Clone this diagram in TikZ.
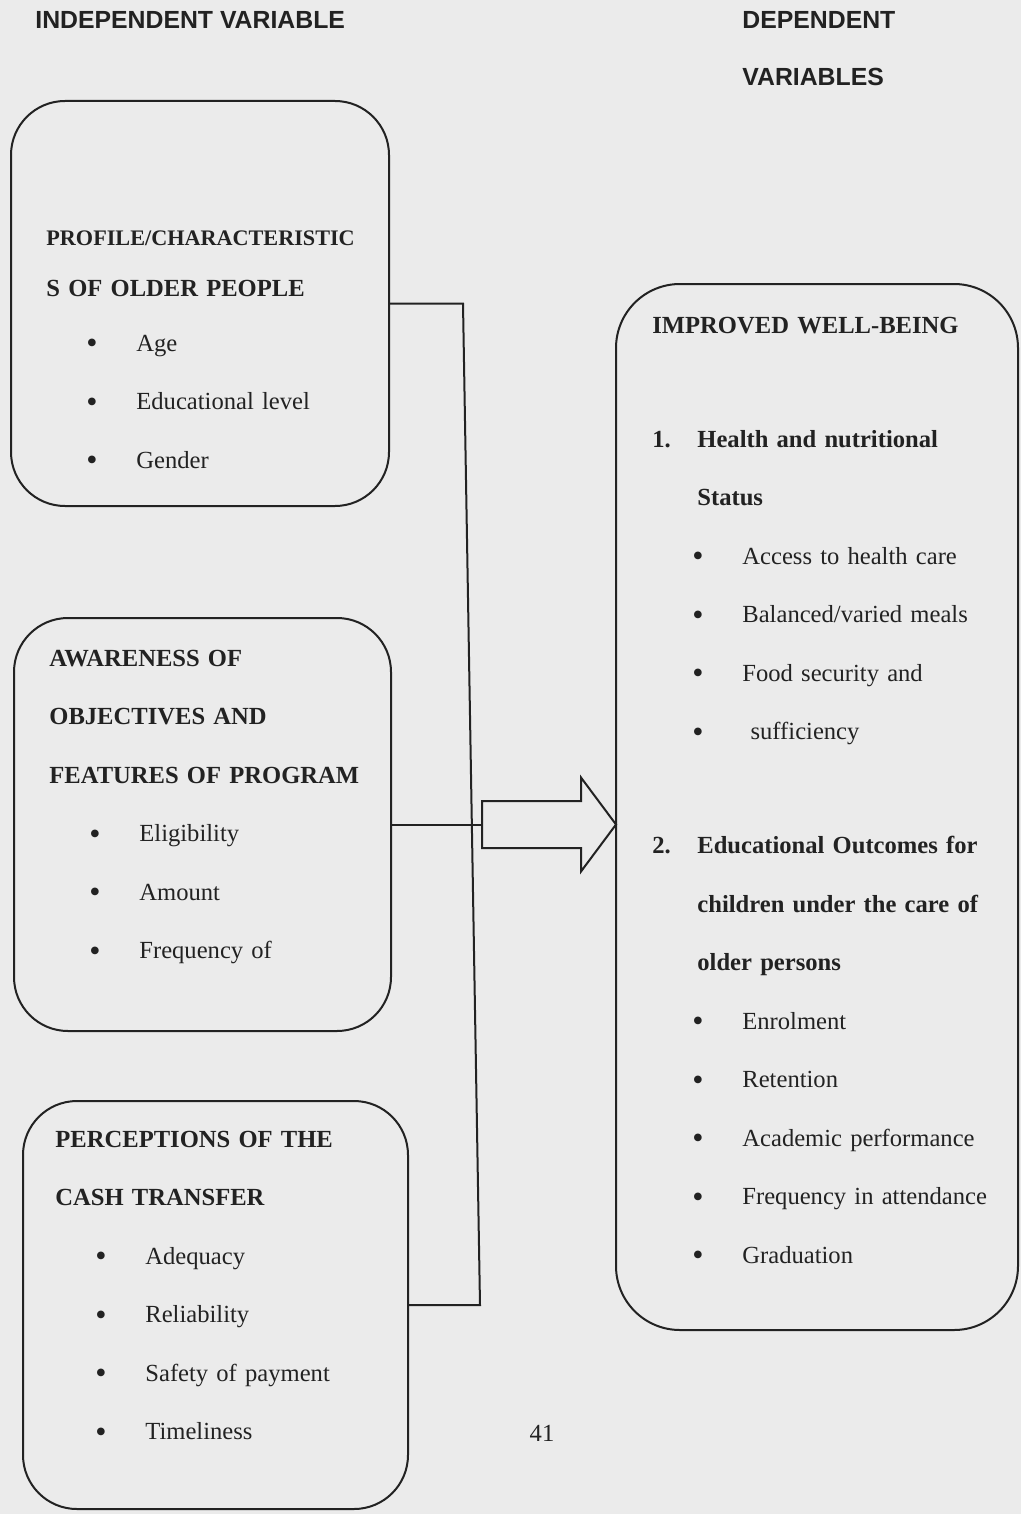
\documentclass[tikz,border=0pt]{standalone}
\usepackage{fontspec}
\setmainfont{Liberation Serif}
\newfontfamily\headsans{Liberation Sans}
\usepackage{xcolor}
\usepackage{tikz}
\usetikzlibrary{positioning}

\definecolor{ink}{HTML}{222222}
\definecolor{paper}{HTML}{EBEBEB}

\newcommand{\itm}[1]{\hspace*{20pt}\makebox[25pt][l]{\raisebox{-1.3pt}{\fontsize{16}{16}\selectfont\textbullet}}#1}
\newcommand{\numhd}[2]{\makebox[22.5pt][l]{#1}#2}

\begin{document}
\begin{tikzpicture}[x=0.5pt,y=-0.5pt,every node/.style={on grid,node distance=29.25pt},
    panel/.style={draw=ink,line width=1pt,rounded corners=27pt,anchor=north west,inner sep=0pt},
    txt/.style={text=ink,inner sep=0pt,text width=175pt,align=left,text height=9pt,text depth=3pt,
      font=\fontsize{12.3}{14.8}\selectfont},
    hd/.style={txt,font=\fontsize{12.3}{14.8}\selectfont\bfseries},
    top/.style={text=ink,inner sep=0pt,anchor=west,font=\headsans\fontsize{12.4}{14}\selectfont\bfseries},
    link/.style={draw=ink,line width=1pt}]

    \fill[paper] (0,0) rectangle (1021,1514);
    \useasboundingbox (0,0) rectangle (1021,1514);

    \node[top] (IV) at (35,20) {INDEPENDENT VARIABLE};
    \node[top] (DV) at (742,20) {DEPENDENT};
    \node[top] (DV2) at (742,77) {VARIABLES};

    % boxes
    \node[panel,minimum width=189pt,minimum height=202.5pt] (Prof) at (10,100) {};
    \node[panel,minimum width=188.5pt,minimum height=206.5pt] (Aware) at (13,617) {};
    \node[panel,minimum width=192.5pt,minimum height=204pt] (Perc) at (22,1100) {};
    \node[panel,minimum width=201pt,minimum height=523pt,rounded corners=32pt] (Well) at (615,283) {};

    % profile
    \node[hd,anchor=west,font=\fontsize{11.1}{14}\selectfont\bfseries] (p1) at (46,240) {PROFILE/CHARACTERISTIC};
    \node[hd,node distance=25pt,below of=p1] (p2) {S OF OLDER PEOPLE};
    \node[txt,node distance=27.5pt,below of=p2] (p3) {\itm{Age}};
    \node[txt,below of=p3] (p4) {\itm{Educational level}};
    \node[txt,below of=p4] (p5) {\itm{Gender}};

    % awareness
    \node[hd,anchor=west] (a1) at (49,660) {AWARENESS OF};
    \node[hd,below of=a1] (a2) {OBJECTIVES AND};
    \node[hd,below of=a2] (a3) {FEATURES OF PROGRAM};
    \node[txt,below of=a3] (a4) {\itm{Eligibility}};
    \node[txt,below of=a4] (a5) {\itm{Amount}};
    \node[txt,below of=a5] (a6) {\itm{Frequency of}};

    % perceptions
    \node[hd,anchor=west] (c1) at (55,1141) {PERCEPTIONS OF THE};
    \node[hd,below of=c1] (c2) {CASH TRANSFER};
    \node[txt,below of=c2] (c3) {\itm{Adequacy}};
    \node[txt,below of=c3] (c4) {\itm{Reliability}};
    \node[txt,below of=c4] (c5) {\itm{Safety of payment}};
    \node[txt,below of=c5] (c6) {\itm{Timeliness}};

    % well-being
    \node[hd,anchor=west] (w1) at (652,327) {IMPROVED WELL-BEING};
    \node[hd,node distance=57pt,below of=w1] (w2) {\numhd{1.}{Health and nutritional}};
    \node[hd,below of=w2] (w3) {\numhd{}{Status}};
    \node[txt,below of=w3] (w4) {\itm{Access to health care}};
    \node[txt,below of=w4] (w5) {\itm{Balanced/varied meals}};
    \node[txt,below of=w5] (w6) {\itm{Food security and}};
    \node[txt,below of=w6] (w7) {\itm{\ sufficiency}};
    \node[hd,node distance=57pt,below of=w7] (w8) {\numhd{2.}{Educational Outcomes for}};
    \node[hd,below of=w8] (w9) {\numhd{}{children under the care of}};
    \node[hd,below of=w9] (w10) {\numhd{}{older persons}};
    \node[txt,below of=w10] (w11) {\itm{Enrolment}};
    \node[txt,below of=w11] (w12) {\itm{Retention}};
    \node[txt,below of=w12] (w13) {\itm{Academic performance}};
    \node[txt,below of=w13] (w14) {\itm{Frequency in attendance}};
    \node[txt,below of=w14] (w15) {\itm{Graduation}};

    \node[text=ink,inner sep=0pt,font=\fontsize{12.3}{14.8}\selectfont] (pg) at (542,1433) {41};

    % connectors
    \coordinate (jt) at (463,0 |- Prof.east);
    \coordinate (jb) at (480,0 |- Perc.east);
    \coordinate (tail) at (482,0 |- Aware.east);
    \draw[link] (Prof.east) -- (jt) -- (jb) -- (Perc.east);
    \draw[link] (Aware.east) -- (tail);
    \draw[link] (tail) -- ++(0,23.5) -- ++(99,0) -- ++(0,23.5) -- ++(35,-47)
      -- ++(-35,-47) -- ++(0,23.5) -- ++(-99,0) -- cycle;
  \end{tikzpicture}
\end{document}
